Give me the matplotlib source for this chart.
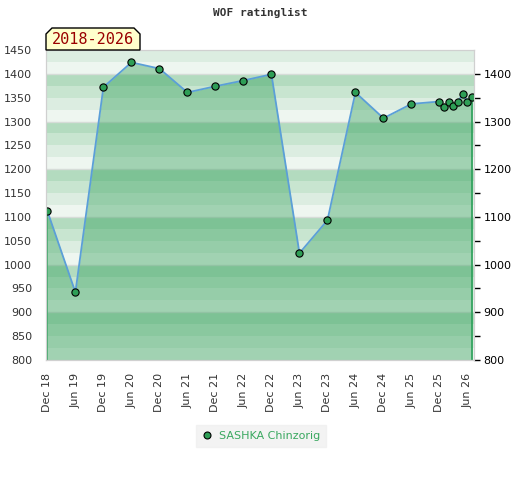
"""
WOF ratinglist - SASHKA Chinzorig の rating 推移
"""
import matplotlib
matplotlib.use('Agg')
import matplotlib.pyplot as plt
from matplotlib.patches import Polygon
from matplotlib.lines import Line2D

# 月数 (Dec 2018 = 0)
months = [0, 6, 12, 18, 24, 30, 36, 42, 48, 54, 60, 66, 72, 78,
          84, 85, 86, 87, 88, 89, 90, 91]
ratings = [1112, 942, 1372, 1424, 1411, 1361, 1374, 1386, 1399, 1024, 1093, 1361, 1307, 1337,
           1342, 1331, 1340, 1333, 1342, 1358, 1342, 1352]

tick_months = list(range(0, 91, 6))
tick_labels = ['Dec 18', 'Jun 19', 'Dec 19', 'Jun 20', 'Dec 20', 'Jun 21', 'Dec 21', 'Jun 22',
               'Dec 22', 'Jun 23', 'Dec 23', 'Jun 24', 'Dec 24', 'Jun 25', 'Dec 25', 'Jun 26']

player = 'SASHKA Chinzorig'
period = '2018-2026'
title = 'WOF ratinglist'

Y_MIN, Y_MAX = 800, 1450
W, H = 520, 480

fig = plt.figure(figsize=(W / 100, H / 100), dpi=100)
ax = fig.add_axes([46 / W, 1 - 360 / H, 428 / W, 310 / H])

# 背景の縞模様 (25 刻み)
band_colors = ['#eef6f0', '#dcede1', '#c8e5d0', '#b3dbbf']
for lo in range(Y_MIN, Y_MAX, 25):
    ax.axhspan(lo, lo + 25, color=band_colors[(lo % 100) // 25], lw=0, zorder=0)
for v in range(Y_MIN + 100, Y_MAX, 100):
    ax.axhline(v, color='#d6dcd8', lw=1, zorder=0.5)

# 塗りつぶしと線
ax.fill_between(months, ratings, Y_MIN, color='#2e9e56', alpha=0.4, lw=0, zorder=1)
ax.vlines([months[0], months[-1]], Y_MIN, [ratings[0], ratings[-1]], color='#2ca05a', lw=1.2, zorder=2)
ax.plot(months, ratings, color='#5b9fd8', lw=1.3, zorder=3)
ax.plot(months, ratings, ls='none', marker='o', ms=5.2, mfc='#2e9e56', mec='black', mew=0.8, zorder=4)

ax.set_xlim(-0.3, 91.4)
ax.set_ylim(Y_MIN, Y_MAX)
ax.set_yticks(range(Y_MIN, Y_MAX + 1, 50))
ax.set_xticks(tick_months)
ax.set_xticklabels(tick_labels, rotation=90)
ax.tick_params(axis='both', length=0, labelsize=8, colors='#333333')
ax.tick_params(axis='y', pad=10)
ax.tick_params(axis='x', pad=9)
for s in ax.spines.values():
    s.set_color('#d0d0d0')

# 右側の軸
ax2 = ax.twinx()
ax2.set_ylim(Y_MIN, Y_MAX)
ax2.set_yticks(range(Y_MIN, Y_MAX, 100))
ax2.set_yticks(range(Y_MIN + 50, Y_MAX, 100), minor=True)
ax2.tick_params(axis='y', which='both', length=4, width=1, labelsize=8, colors='black', pad=3)
for s in ax2.spines.values():
    s.set_color('#d0d0d0')

# タイトル
fig.text(260 / W, 1 - 13 / H, title, ha='center', va='center',
         family='DejaVu Sans Mono', weight='bold', size=8, color='#333333')

# 期間のラベル
px = [(46, 50), (46, 34), (52, 28), (134, 28), (140, 34), (140, 50)]
box = Polygon([(x / W, 1 - y / H) for x, y in px], closed=True, transform=fig.transFigure,
              facecolor='#ffffcc', edgecolor='black', lw=1, zorder=10)
fig.patches.append(box)
fig.text(93 / W, 1 - 40 / H, period, ha='center', va='center',
         family='DejaVu Sans Mono', size=11, color='#990000', zorder=11)

# レジェンド
handle = Line2D([], [], ls='none', marker='o', ms=5, mfc='#2e9e56', mec='black', mew=0.8)
leg = fig.legend([handle], [player], loc='center', bbox_to_anchor=(261 / W, 1 - 436 / H),
                 frameon=True, fancybox=False, fontsize=8, labelcolor='#3aa860',
                 handlelength=1, handletextpad=0.6, borderpad=0.5)
leg.get_frame().set_facecolor('#f0f0f0')
leg.get_frame().set_edgecolor('#f0f0f0')

fig.savefig('out.png', dpi=100)
